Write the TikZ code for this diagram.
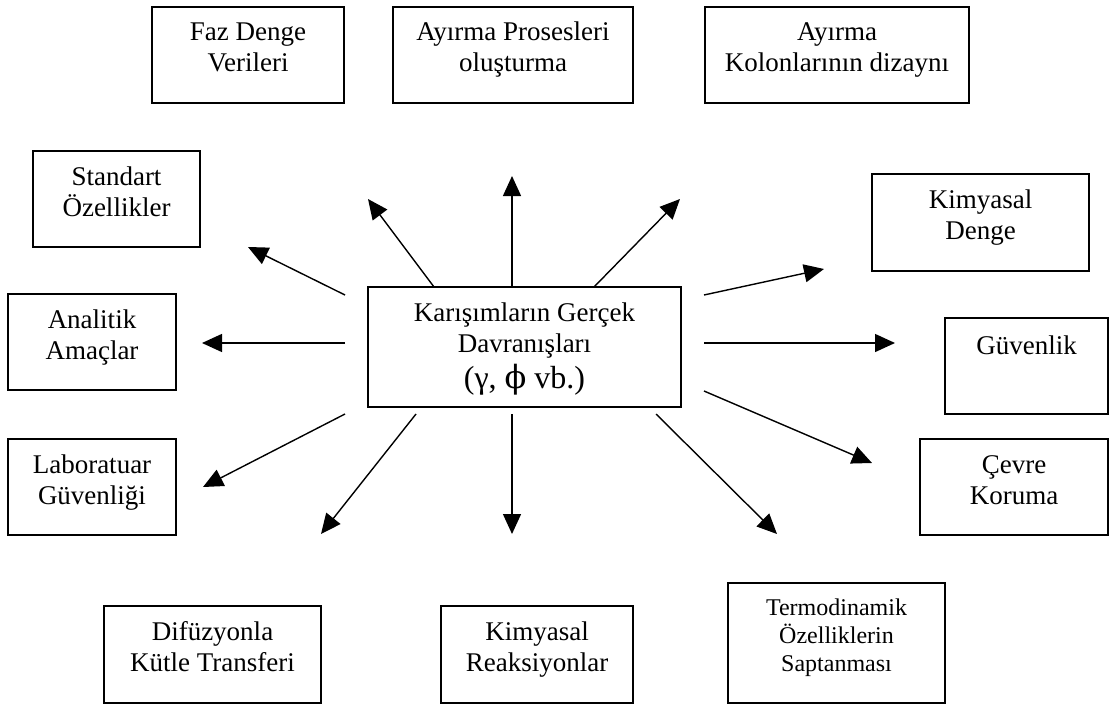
\documentclass[tikz,border=0pt]{standalone}
\usepackage{fontspec}
\setmainfont{Liberation Serif}
\newfontfamily\grkfont{DejaVu Serif}
\usetikzlibrary{arrows.meta}
\newcommand{\bt}[4]{\parbox[c][#2pt][t]{#1pt}{\centering\fontsize{27}{31}\selectfont\rule{0pt}{#3pt}#4}}
\newcommand{\btsmall}[4]{\parbox[c][#2pt][t]{#1pt}{\centering\fontsize{24}{28}\selectfont\rule{0pt}{#3pt}#4}}
\tikzset{
  box/.style={draw=black, line width=1.5pt, inner sep=0pt, outer sep=0pt},
  arr/.style={draw=black, line width=1.4pt, -{Triangle[length=20pt,width=18pt]}}
}
\begin{document}
\begin{tikzpicture}[x=1pt,y=-1pt]
\useasboundingbox (0,0) rectangle (1111,706);
\fill[white] (0,0) rectangle (1111,706);
% boxes
\node[box] (faz) at (248,55)   {\bt{192}{96}{34}{Faz Denge\\Verileri}};
\node[box] (ayr) at (513,55)   {\bt{240}{96}{34}{Ayırma Prosesleri\\oluşturma}};
\node[box] (kol) at (837,55)   {\bt{264}{96}{34}{Ayırma\\Kolonlarının dizaynı}};
\node[box] (std) at (116.5,199) {\bt{167}{96}{34}{Standart\\Özellikler}};
\node[box] (kd)  at (980.5,222.5) {\bt{217}{97}{34}{Kimyasal\\Denge}};
\node[box] (ana) at (92,342)   {\bt{168}{96}{34}{Analitik\\Amaçlar}};
\node[box] (mid) at (524.5,347) {\bt{313}{120}{34}{Karışımların Gerçek\\Davranışları\\[5pt]{\fontsize{32}{38}\selectfont(γ, {\grkfont ϕ} vb.)}}};
\node[box] (guv) at (1026.5,366) {\bt{163}{96}{36}{Güvenlik}};
\node[box] (lab) at (92,487)   {\bt{168}{96}{34}{Laboratuar\\Güvenliği}};
\node[box] (cev) at (1014,487) {\bt{188}{96}{34}{Çevre\\Koruma}};
\node[box] (dif) at (212.5,654.5) {\bt{217}{97}{34}{Difüzyonla\\Kütle Transferi}};
\node[box] (kr)  at (537,654.5)  {\bt{192}{97}{34}{Kimyasal\\Reaksiyonlar}};
\node[box] (ter) at (836.5,643)  {\btsmall{217}{120}{32}{Termodinamik\\Özelliklerin\\Saptanması}};
% arrow end points
\coordinate (s1) at (512,287);  \coordinate (e1) at (512,176);
\coordinate (s2) at (434,287);  \coordinate (e2) at (368,199);
\coordinate (s3) at (594,287);  \coordinate (e3) at (680,199);
\coordinate (s4) at (345,295);  \coordinate (e4) at (248,247);
\coordinate (s5) at (345,343);  \coordinate (e5) at (202,343);
\coordinate (s6) at (345,414);  \coordinate (e6) at (203,487);
\coordinate (s7) at (416,414);  \coordinate (e7) at (321,534);
\coordinate (s8) at (512,414);  \coordinate (e8) at (512,534);
\coordinate (s9) at (656,414);  \coordinate (e9) at (777,534);
\coordinate (s10) at (704,391); \coordinate (e10) at (872,463);
\coordinate (s11) at (704,343); \coordinate (e11) at (895,343);
\coordinate (s12) at (704,295); \coordinate (e12) at (824,269);
\foreach \i in {1,...,12} { \draw[arr] (s\i) -- (e\i); }
\end{tikzpicture}
\end{document}
